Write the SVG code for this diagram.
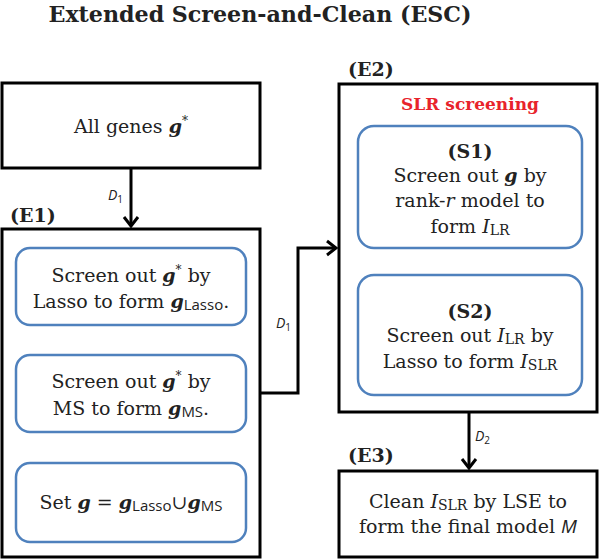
<svg xmlns="http://www.w3.org/2000/svg" width="600" height="559" viewBox="0 0 600 559">
<style>
.t{font-family:"DejaVu Serif","Liberation Serif",serif;font-size:19px;fill:#222;text-anchor:middle}
.lbl{font-family:"DejaVu Serif","Liberation Serif",serif;font-size:19px;font-weight:bold;fill:#222}
.g{font-weight:bold;font-style:italic}
.sub{font-family:"Open Sans","Liberation Sans",sans-serif;font-size:15px}
.it{font-style:italic}
.box{fill:#fff;stroke:#000;stroke-width:3}
.rbox{fill:#fff;stroke:#4f81bd;stroke-width:2.5}
.d{font-family:"Open Sans","Liberation Sans",sans-serif;font-size:14px;font-style:italic;fill:#222}
.conn{fill:none;stroke:#000;stroke-width:3}
.bconn{fill:none;stroke:#4f81bd;stroke-width:2}
</style>
<defs>
<marker id="chev" markerUnits="userSpaceOnUse" markerWidth="20" markerHeight="20" viewBox="-12 -10 14 20" refX="0" refY="0" orient="auto">
<path d="M-9,-7 L0,0 L-9,7" fill="none" stroke="#000" stroke-width="3"/>
</marker>
<marker id="tri" markerUnits="userSpaceOnUse" markerWidth="12" markerHeight="12" viewBox="-8 -5 9 10" refX="0" refY="0" orient="auto">
<path d="M-7,-4.5 L0,0 L-7,4.5 Z" fill="#4f81bd"/>
</marker>
</defs>
<text x="260" y="22" font-family="DejaVu Serif,Liberation Serif,serif" font-size="23" font-weight="bold" fill="#222" text-anchor="middle" textLength="423" lengthAdjust="spacingAndGlyphs">Extended Screen-and-Clean (ESC)</text>

<g id="connectors">
<path class="conn" d="M131,168 V226" marker-end="url(#chev)"/>
<path class="conn" d="M260,393 H298 V248 H336" marker-end="url(#chev)"/>
<path class="conn" d="M469,412 V468" marker-end="url(#chev)"/>
<path class="bconn" d="M131,325 V353" marker-end="url(#tri)"/>
<path class="bconn" d="M131,432 V461" marker-end="url(#tri)"/>
<path class="bconn" d="M470,248 V273" marker-end="url(#tri)"/>
<text class="d" x="108" y="200">D<tspan font-size="10" font-style="normal" dy="3">1</tspan></text>
<text class="d" x="276" y="328">D<tspan font-size="10" font-style="normal" dy="3">1</tspan></text>
<text class="d" x="475" y="441">D<tspan font-size="10" font-style="normal" dy="3">2</tspan></text>
</g>

<g id="all-genes">
<rect class="box" x="2" y="83" width="258" height="85"/>
<text class="t" x="131" y="133">All genes <tspan class="g">g</tspan><tspan font-size="12" dy="-8">*</tspan></text>
</g>

<g id="E1">
<rect class="box" x="2" y="229" width="258" height="328"/>
<text class="lbl" x="10" y="222">(E1)</text>
</g>

<g id="E1-lasso">
<rect class="rbox" x="16" y="248" width="230" height="77" rx="14"/>
<text class="t" x="131" y="282">Screen out <tspan class="g">g</tspan><tspan font-size="12" dy="-8">*</tspan><tspan dy="8"> by</tspan></text>
<text class="t" x="131" y="308">Lasso to form <tspan class="g">g</tspan><tspan class="sub" dy="2">Lasso</tspan><tspan dy="-2">.</tspan></text>
</g>

<g id="E1-ms">
<rect class="rbox" x="16" y="355" width="230" height="77" rx="14"/>
<text class="t" x="131" y="388">Screen out <tspan class="g">g</tspan><tspan font-size="12" dy="-8">*</tspan><tspan dy="8"> by</tspan></text>
<text class="t" x="131" y="415">MS to form <tspan class="g">g</tspan><tspan class="sub" dy="2">MS</tspan><tspan dy="-2">.</tspan></text>
</g>

<g id="E1-set">
<rect class="rbox" x="16" y="463" width="230" height="79" rx="14"/>
<text class="t" x="131" y="509">Set <tspan class="g">g</tspan> = <tspan class="g">g</tspan><tspan class="sub" dy="2">Lasso</tspan><tspan dy="-2">∪</tspan><tspan class="g">g</tspan><tspan class="sub" dy="2">MS</tspan></text>
</g>

<g id="E2">
<rect class="box" x="339" y="84" width="258" height="328"/>
<text class="lbl" x="348" y="76">(E2)</text>
<text x="470" y="110" font-family="DejaVu Serif,Liberation Serif,serif" font-size="17" font-weight="bold" fill="#e8232b" text-anchor="middle">SLR screening</text>
</g>

<g id="S1">
<rect class="rbox" x="358" y="126" width="224" height="122" rx="16"/>
<text class="t" x="470" y="158" font-weight="bold">(S1)</text>
<text class="t" x="470" y="182">Screen out <tspan class="g">g</tspan> by</text>
<text class="t" x="470" y="207">rank-<tspan class="it">r</tspan> model to</text>
<text class="t" x="470" y="233">form <tspan class="it">I</tspan><tspan font-size="14" dy="2">LR</tspan></text>
</g>

<g id="S2">
<rect class="rbox" x="358" y="275" width="224" height="120" rx="16"/>
<text class="t" x="470" y="318" font-weight="bold">(S2)</text>
<text class="t" x="470" y="342">Screen out <tspan class="it">I</tspan><tspan font-size="14" dy="2">LR</tspan><tspan dy="-2"> by</tspan></text>
<text class="t" x="470" y="368">Lasso to form <tspan class="it">I</tspan><tspan font-size="14" dy="2">SLR</tspan></text>
</g>

<g id="E3">
<text class="lbl" x="348" y="462">(E3)</text>
<rect class="box" x="339" y="471" width="258" height="86"/>
<text class="t" x="468" y="508">Clean <tspan class="it">I</tspan><tspan font-size="14" dy="2">SLR</tspan><tspan dy="-2"> by LSE to</tspan></text>
<text class="t" x="468" y="533">form the final model <tspan class="it" font-family="Open Sans,Liberation Sans,sans-serif">M</tspan></text>
</g>
</svg>
